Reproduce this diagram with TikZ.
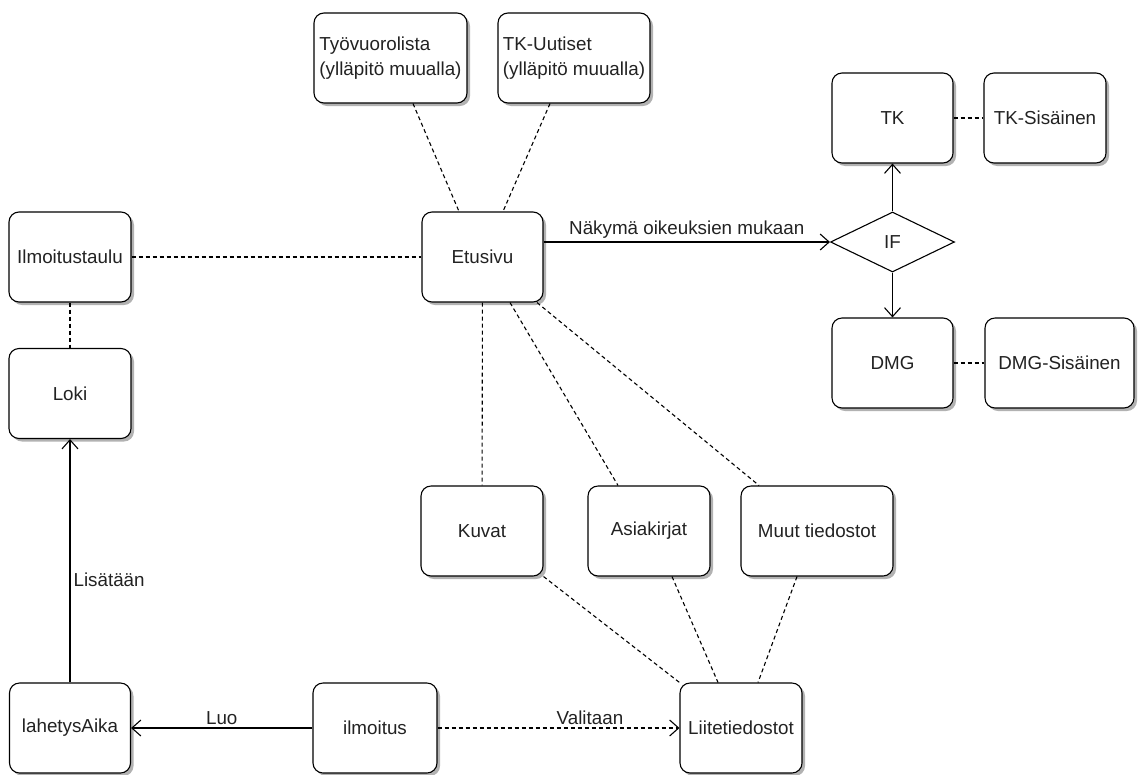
\documentclass[tikz,border=0pt]{standalone}
\usepackage{fontspec}
\setmainfont{Liberation Sans}
\usetikzlibrary{shapes.geometric,shadows,arrows.meta}
\definecolor{txt}{HTML}{222222}
\tikzset{
  box/.style={draw, rounded corners=10pt, fill=white, line width=1.1pt,
    minimum height=90pt, inner sep=2pt, text=txt, font=\fontsize{18.8}{25}\selectfont,
    drop shadow={shadow xshift=3pt, shadow yshift=-3pt, fill=black, opacity=0.3}},
  dec/.style={draw, diamond, fill=white, line width=1.1pt, inner sep=0pt,
    minimum width=124pt, minimum height=60pt, text=txt, font=\fontsize{18.8}{21}\selectfont},
  dline/.style={line width=1.1pt, dash pattern=on 4pt off 3pt},
  sline/.style={line width=1.1pt},
  tip/.style={-{Straight Barb[length=9pt,width=16pt,line width=1.1pt]}},
  lbl/.style={text=txt, font=\fontsize{18.8}{21}\selectfont, inner sep=3pt}
}
\begin{document}
\begin{tikzpicture}[x=1pt,y=-1pt]
\useasboundingbox (0,0) rectangle (1139,774);
% nodes
\node[box, minimum width=153pt, align=left] (tyo) at (390.5,58) {Työvuorolista\\(ylläpitö muualla)};
\node[box, minimum width=152pt, align=left] (tku) at (574,58) {TK-Uutiset\\(ylläpitö muualla)};
\node[box, minimum width=121pt] (etu) at (482.5,257) {Etusivu};
\node[box, minimum width=122pt] (ilm) at (70,257) {Ilmoitustaulu};
\node[box, minimum width=122pt] (loki) at (70,393.5) {Loki};
\node[box, minimum width=121pt] (lah) at (70,728) {lahetysAika};
\node[box, minimum width=124pt] (ilmo) at (375,728) {ilmoitus};
\node[box, minimum width=122pt] (liite) at (741,728) {Liitetiedostot};
\node[box, minimum width=122pt] (kuvat) at (482,531) {Kuvat};
\node[box, minimum width=122pt] (asia) at (649,531) {Asiakirjat};
\node[box, minimum width=152pt] (muut) at (817,531) {Muut tiedostot};
\node[box, minimum width=121pt] (tk) at (892.5,118) {TK};
\node[box, minimum width=122pt] (tks) at (1045,118) {TK-Sisäinen};
\node[dec] (if) at (892.5,242) {IF};
\node[box, minimum width=121pt] (dmg) at (892.5,363) {DMG};
\node[box, minimum width=149pt] (dmgs) at (1059.5,363) {DMG-Sisäinen};
% dashed connectors
\draw[dline] ([xshift=22.5pt]tyo.south) -- ([xshift=-23.5pt]etu.north);
\draw[dline] ([xshift=-24pt]tku.south) -- ([xshift=20.5pt]etu.north);
\draw[dline] (ilm) -- (etu);
\draw[dline] (ilm) -- (loki);
\draw[dline] (tk) -- (tks);
\draw[dline] (dmg) -- (dmgs);
\draw[dline] (etu) -- (kuvat);
\draw[dline] ([xshift=27.5pt]etu.south) -- ([xshift=-31pt]asia.north);
\draw[dline] ([xshift=54.5pt]etu.south) -- ([xshift=-58pt]muut.north);
\draw[dline] (kuvat.south east) -- (liite.north west);
\draw[dline] ([xshift=23pt]asia.south) -- ([xshift=-23pt]liite.north);
\draw[dline] ([xshift=-20pt]muut.south) -- ([xshift=17pt]liite.north);
% arrows
\draw[sline, tip] (etu.east |- if.west) -- node[lbl, above] {Näkymä oikeuksien mukaan} (if.west);
\draw[sline, tip] (if.north) -- (tk.south);
\draw[sline, tip] (if.south) -- (dmg.north);
\draw[sline, tip] (lah) -- node[lbl, pos=0.42, right] {Lisätään} (loki);
\draw[sline, tip] (ilmo) -- node[lbl, midway, above] {Luo} (lah);
\draw[dline, tip] (ilmo) -- node[lbl, pos=0.63, above] {Valitaan} (liite);
\end{tikzpicture}
\end{document}
